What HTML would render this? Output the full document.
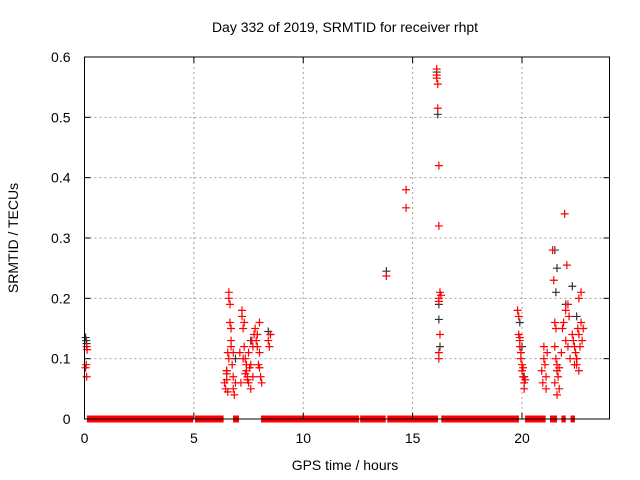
<!DOCTYPE html>
<html><head><meta charset="utf-8"><style>
body{margin:0;background:#fff;}
svg{display:block;font-family:"Liberation Sans",sans-serif;}
</style></head><body>
<svg id="chart" width="640" height="480">
<text x="345" y="32" font-size="14" text-anchor="middle" fill="#000">Day 332 of 2019, SRMTID for receiver rhpt</text>
<text x="345" y="470" font-size="14" text-anchor="middle" fill="#000">GPS time / hours</text>
<text x="18" y="238" font-size="14" text-anchor="middle" fill="#000" transform="rotate(-90 18 238)">SRMTID / TECUs</text>
<g id="grid"></g><g id="marks"></g><g id="axes"></g>
</svg>
<script>
const xTicks=[0,5,10,15,20];
const yTicks=[0,0.1,0.2,0.3,0.4,0.5,0.6];
const yTickLabels=["0","0.1","0.2","0.3","0.4","0.5","0.6"];
const zeroSegments=[[0.11,4.97],[5.05,6.36],[6.79,7.06],[8.07,12.55],[12.6,13.77],[13.84,16.16],[16.31,19.86],[20.14,21.08],[21.28,21.6],[21.8,22.0],[22.22,22.42]];
const blackX=[0.05,0.08,0.1,6.5,6.9,7.6,8.4,8.5,13.8,16.1,16.15,16.2,16.2,16.25,19.9,20.0,20.1,21.5,21.55,21.6,22.0,22.3,22.5];
const blackY=[0.135,0.13,0.125,0.08,0.1,0.13,0.145,0.14,0.245,0.575,0.505,0.19,0.165,0.12,0.16,0.12,0.07,0.28,0.21,0.25,0.19,0.22,0.17];
const redX=[0.05,0.08,0.1,0.1,0.12,
6.4,6.45,6.5,6.5,6.55,6.6,6.6,6.65,6.7,6.7,6.75,6.8,6.8,6.85,6.9,6.6,6.7,6.5,6.55,6.8,6.65,
7.1,7.15,7.2,7.2,7.25,7.3,7.3,7.35,7.4,7.4,7.45,7.5,7.5,7.55,7.6,7.6,7.65,7.7,7.7,7.75,7.25,7.35,7.45,
7.8,7.85,7.9,7.95,8.0,8.0,8.05,8.1,7.9,8.0,8.4,8.45,8.5,
13.8,14.7,14.7,
16.1,16.1,16.1,16.15,16.15,16.2,16.2,16.25,16.3,16.2,16.25,16.2,16.2,16.2,
19.8,19.85,19.85,19.9,19.9,19.95,19.95,20.0,20.0,20.05,20.1,20.1,20.15,19.9,20.05,
20.9,20.95,21.0,21.0,21.05,21.1,21.1,21.15,
21.4,21.45,21.5,21.5,21.55,21.6,21.6,21.65,21.7,21.5,21.55,21.6,21.7,
21.8,21.85,21.9,21.95,22.0,22.0,22.05,22.1,22.1,22.15,22.2,
22.3,22.35,22.4,22.45,22.5,22.5,22.55,22.6,22.6,22.65,22.7,22.7,22.75,22.8,22.4,22.5,22.6];
const redY=[0.085,0.09,0.07,0.12,0.115,
0.06,0.05,0.08,0.065,0.11,0.21,0.2,0.19,0.15,0.12,0.09,0.07,0.05,0.04,0.06,0.1,0.13,0.075,0.045,0.11,0.16,
0.11,0.06,0.18,0.17,0.15,0.16,0.12,0.1,0.09,0.08,0.07,0.06,0.11,0.085,0.05,0.09,0.13,0.07,0.12,0.14,0.1,0.075,0.065,
0.15,0.13,0.12,0.09,0.16,0.085,0.07,0.06,0.14,0.11,0.13,0.12,0.14,
0.237,0.38,0.35,
0.58,0.57,0.565,0.555,0.515,0.42,0.32,0.21,0.205,0.2,0.14,0.11,0.1,0.195,
0.18,0.17,0.14,0.13,0.12,0.11,0.1,0.09,0.08,0.07,0.06,0.05,0.065,0.135,0.085,
0.08,0.06,0.12,0.1,0.09,0.07,0.05,0.11,
0.28,0.23,0.16,0.12,0.1,0.09,0.08,0.07,0.05,0.06,0.15,0.04,0.085,
0.11,0.15,0.16,0.34,0.18,0.13,0.255,0.19,0.12,0.17,0.1,
0.14,0.13,0.12,0.11,0.1,0.09,0.15,0.14,0.08,0.12,0.21,0.16,0.13,0.15,0.09,0.1,0.2];
const X0=84.5,X1=609.5,Y0=419,Y1=57,XMAX=24,YMAX=0.6;
const xs=v=>X0+(X1-X0)*v/XMAX;
const ys=v=>Y0-(Y0-Y1)*v/YMAX;
const NS="http://www.w3.org/2000/svg";
function mk(t,a,p){const e=document.createElementNS(NS,t);for(const k in a)e.setAttribute(k,a[k]);p.appendChild(e);return e;}
const grid=document.getElementById('grid'),marks=document.getElementById('marks'),axes=document.getElementById('axes');
xTicks.forEach((t,i)=>{
 if(t>0){const g=mk('line',{x1:xs(t),x2:xs(t),y1:Y1,y2:Y0,stroke:'#a0a0a0','stroke-dasharray':'2,3'},grid);
 }
 const l=mk('text',{x:xs(t),y:Y0+24,'font-size':14,'text-anchor':'middle'},axes);l.textContent=t;
 
 mk('line',{x1:xs(t),x2:xs(t),y1:Y0,y2:Y0-6,stroke:'#000'},axes);
 mk('line',{x1:xs(t),x2:xs(t),y1:Y1,y2:Y1+6,stroke:'#000'},axes);
});
yTicks.forEach((t,i)=>{
 if(t>0){const g=mk('line',{x1:X0,x2:X1,y1:ys(t),y2:ys(t),stroke:'#a0a0a0','stroke-dasharray':'2,3'},grid);
 }
 const l=mk('text',{x:X0-14,y:ys(t)+5,'font-size':14,'text-anchor':'end'},axes);l.textContent=yTickLabels[i];
 
 mk('line',{x1:X0,x2:X0+6,y1:ys(t),y2:ys(t),stroke:'#000'},axes);
 mk('line',{x1:X1,x2:X1-6,y1:ys(t),y2:ys(t),stroke:'#000'},axes);
});
const frame=mk('rect',{x:X0,y:Y1,width:X1-X0,height:Y0-Y1,fill:'none',stroke:'#000'},axes);

zeroSegments.forEach(s=>{
 const r=mk('rect',{x:xs(s[0]),y:Y0-3.5,width:xs(s[1])-xs(s[0]),height:7,fill:'#f00'},marks);
 
});
function plus(x,y,c,name){
 const p=mk('path',{d:`M${xs(x)-4},${ys(y)}h8M${xs(x)},${ys(y)-4}v8`,stroke:c,'stroke-width':1.2,fill:'none'},marks);
 
}
blackX.forEach((x,i)=>plus(x,blackY[i],'#333','black-point'));
redX.forEach((x,i)=>plus(x,redY[i],'#f00','red-point'));
</script>
</body></html>
